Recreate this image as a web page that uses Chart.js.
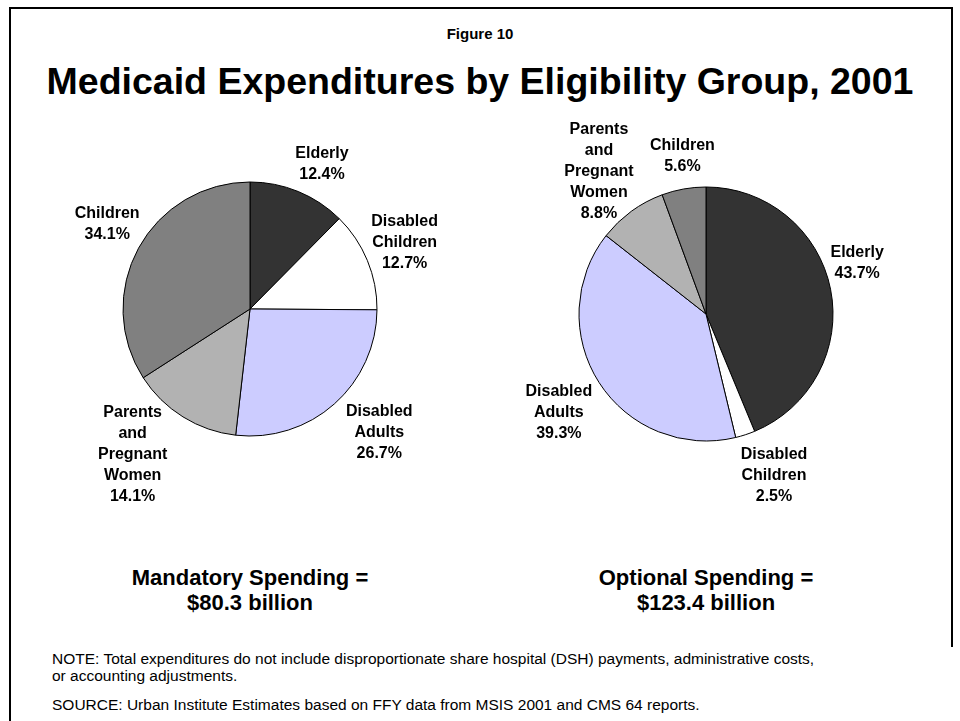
<!DOCTYPE html>
<html>
<head>
<meta charset="utf-8">
<script src="https://cdn.jsdelivr.net/npm/chart.js@4"></script>
<style>
  body { margin: 0; background: #fff; }
  #page { position: relative; width: 960px; height: 721px; overflow: hidden; background: #fff;
          font-family: "Liberation Sans", Arial, sans-serif; color: #000; }
  .rule { position: absolute; background: #000; }
  .txt { position: absolute; white-space: nowrap; }
  .center { text-align: center; font-weight: bold; }
  canvas { position: absolute; }
</style>
</head>
<body>
<div id="page">
  <div class="rule" style="left:9px; top:7px; width:944px; height:2px;"></div>
  <div class="rule" style="left:9px; top:7px; width:2px; height:714px;"></div>
  <div class="rule" style="left:951px; top:7px; width:2px; height:640px;"></div>

  <div class="txt center" style="left:0; width:960px; top:25px; font-size:15px; line-height:18px;">Figure 10</div>
  <div class="txt center" style="left:0; width:960px; top:59px; font-size:37.5px; line-height:44px;">Medicaid Expenditures by Eligibility Group, 2001</div>

  <canvas id="mandatory" width="420" height="420" style="left:40px; top:99px;"></canvas>
  <canvas id="optional" width="420" height="420" style="left:496px; top:104px;"></canvas>

  <div class="txt center" id="mandatoryTotal" style="left:50px; width:400px; top:565px; font-size:22px; line-height:25px;"></div>
  <div class="txt center" id="optionalTotal" style="left:506px; width:400px; top:565px; font-size:22px; line-height:25px;"></div>

  <div class="txt" style="left:52px; top:650px; font-size:15.5px; line-height:17px;">NOTE: Total expenditures do not include disproportionate share hospital (DSH) payments, administrative costs,<br>or accounting adjustments.</div>
  <div class="txt" style="left:52px; top:696px; font-size:15.5px; line-height:17px;">SOURCE: Urban Institute Estimates based on FFY data from MSIS 2001 and CMS 64 reports.</div>
</div>

<script>
// slice order runs clockwise from 12 o'clock
const mandatoryGroups = ['Elderly', 'Disabled\nChildren', 'Disabled\nAdults', 'Parents\nand\nPregnant\nWomen', 'Children'];
const mandatoryShares = [12.4, 12.7, 26.7, 14.1, 34.1];
const mandatoryTotal = 80.3;

const optionalGroups = ['Elderly', 'Disabled\nChildren', 'Disabled\nAdults', 'Parents\nand\nPregnant\nWomen', 'Children'];
const optionalShares = [43.7, 2.5, 39.3, 8.8, 5.6];
const optionalTotal = 123.4;

const groupColors = {
  'Elderly': '#333333',
  'Disabled\nChildren': '#ffffff',
  'Disabled\nAdults': '#ccccff',
  'Parents\nand\nPregnant\nWomen': '#b2b2b2',
  'Children': '#808080',
};

// small hand shifts so labels sit where they read best next to their slice
const mandatoryNudges = [[11, 4], [-6, 0], [12, -9], [-15, -19], [6, -4]];
const optionalNudges = [[-7, -19], [15, -1], [1, 3], [7, 14], [4, -3]];

const LABEL_FONT = 'bold 16px "Liberation Sans", Arial, sans-serif';
const LINE_H = 21;

const sliceLabels = {
  id: 'sliceLabels',
  afterDatasetsDraw(chart, args, opts) {
    const ctx = chart.ctx;
    const meta = chart.getDatasetMeta(0);
    const values = chart.data.datasets[0].data;
    ctx.save();
    ctx.font = LABEL_FONT;
    ctx.fillStyle = '#000';
    ctx.textAlign = 'center';
    ctx.textBaseline = 'middle';
    meta.data.forEach((arc, i) => {
      const { x, y, startAngle, endAngle, outerRadius } =
        arc.getProps(['x', 'y', 'startAngle', 'endAngle', 'outerRadius'], true);
      const mid = (startAngle + endAngle) / 2;
      const cos = Math.cos(mid);
      const sin = Math.sin(mid);
      const lines = chart.data.labels[i].split('\n').concat(values[i].toFixed(1) + '%');
      const w = Math.max(...lines.map(t => ctx.measureText(t).width));
      const h = lines.length * LINE_H;
      const ext = w / 2 * Math.abs(cos) + h / 2 * Math.abs(sin);
      const d = outerRadius + 4 + ext;
      const [nx, ny] = opts.nudges[i] || [0, 0];
      const cx = x + cos * d + nx;
      const cy = y + sin * d + ny;
      lines.forEach((t, k) => {
        ctx.fillText(t, cx, cy + (k - (lines.length - 1) / 2) * LINE_H);
      });
    });
    ctx.restore();
  }
};

const addPie = (canvasId, groups, shares, nudges) => {
  return new Chart(document.getElementById(canvasId), {
    type: 'pie',
    data: {
      labels: groups,
      datasets: [{
        data: shares,
        backgroundColor: groups.map(g => groupColors[g]),
        borderColor: '#000',
        borderWidth: 1,
      }],
    },
    options: {
      responsive: false,
      animation: false,
      events: [],
      radius: 127,
      layout: { padding: 0 },
      plugins: {
        legend: { display: false },
        tooltip: { enabled: false },
        sliceLabels: { nudges: nudges },
      },
    },
    plugins: [sliceLabels],
  });
};

addPie('mandatory', mandatoryGroups, mandatoryShares, mandatoryNudges);
addPie('optional', optionalGroups, optionalShares, optionalNudges);

document.getElementById('mandatoryTotal').innerHTML =
  'Mandatory Spending =<br>$' + mandatoryTotal.toFixed(1) + ' billion';
document.getElementById('optionalTotal').innerHTML =
  'Optional Spending =<br>$' + optionalTotal.toFixed(1) + ' billion';
</script>
</body>
</html>
